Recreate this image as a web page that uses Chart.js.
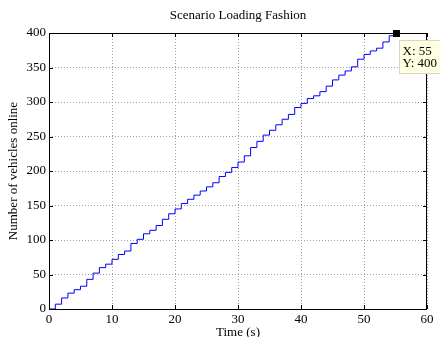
<!DOCTYPE html>
<html>
<head>
<meta charset="utf-8">
<script src="https://cdn.jsdelivr.net/npm/chart.js@4.4.1/dist/chart.umd.min.js"></script>
<style>
html,body{margin:0;padding:0;background:#fff;}
#wrap{width:440px;height:337px;}
</style>
</head>
<body>
<div id="wrap"><canvas id="c" width="440" height="337"></canvas></div>
<script>
// ---- data ----
const timeSeconds = [0,1,2,3,4,5,6,7,8,9,10,11,12,13,14,15,16,17,18,19,20,21,22,23,24,25,26,27,28,29,30,31,32,33,34,35,36,37,38,39,40,41,42,43,44,45,46,47,48,49,50,51,52,53,54,55];
const vehiclesOnline = [0,7,16,23,28,33,43,52,60,65,72,79,84,95,101,109,114,121,130,138,145,153,159,165,171,177,183,192,198,205,213,222,234,243,252,259,267,275,282,292,298,305,309,315,323,332,339,345,351,362,369,374,378,387,396,400];
const xTickValues = [0,10,20,30,40,50,60];
const yTickValues = [0,50,100,150,200,250,300,350,400];
const chartTitle = 'Scenario Loading Fashion';
const xTitle = 'Time (s)';
const yTitle = 'Number of vehicles online';
const dataTipX = 55;
const dataTipY = 400;

const SERIF = "'Liberation Serif', 'Times New Roman', serif";
const FONT = {family: SERIF, size: 13, weight: 'normal', lineHeight: 1.2};

const points = timeSeconds.map((t, i) => ({x: t, y: vehiclesOnline[i]}));

const matlabFrame = {
  id: 'matlabFrame',
  afterDatasetsDraw(chart) {
    const {ctx, chartArea: a, scales: {x, y}} = chart;
    ctx.save();
    // box
    ctx.strokeStyle = '#000';
    ctx.lineWidth = 1;
    ctx.setLineDash([]);
    ctx.strokeRect(Math.round(a.left) + 0.5, Math.round(a.top) + 0.5,
                   Math.round(a.right - a.left) - 1, Math.round(a.bottom - a.top));
    // inward ticks
    const tl = 4;
    ctx.beginPath();
    xTickValues.forEach(v => {
      const px = Math.round(x.getPixelForValue(v)) + 0.5;
      ctx.moveTo(px, a.bottom); ctx.lineTo(px, a.bottom - tl);
      ctx.moveTo(px, a.top); ctx.lineTo(px, a.top + tl);
    });
    yTickValues.forEach(v => {
      const py = Math.round(y.getPixelForValue(v)) + 0.5;
      ctx.moveTo(a.left, py); ctx.lineTo(a.left + tl, py);
      ctx.moveTo(a.right, py); ctx.lineTo(a.right - tl, py);
    });
    ctx.stroke();
    // title
    ctx.fillStyle = '#000';
    ctx.font = '13px ' + SERIF;
    ctx.textAlign = 'center';
    ctx.textBaseline = 'middle';
    ctx.fillText(chartTitle, (a.left + a.right) / 2, 16);
    // data tip
    const mx = x.getPixelForValue(dataTipX);
    const my = y.getPixelForValue(dataTipY);
    ctx.fillStyle = '#000';
    ctx.fillRect(Math.round(mx) - 3, Math.round(my) - 3, 7, 7);
    const bx = Math.round(mx) + 3.5, by = Math.round(my) + 7.5;
    ctx.fillStyle = '#ffffe1';
    ctx.fillRect(bx, by, 50, 33);
    ctx.strokeStyle = '#d8d8c0';
    ctx.strokeRect(bx, by, 50, 33);
    ctx.fillStyle = '#000';
    ctx.textAlign = 'left';
    ctx.textBaseline = 'middle';
    ctx.font = '13px ' + SERIF;
    ctx.fillText('X: ' + dataTipX, bx + 3, by + 11);
    ctx.fillText('Y: ' + dataTipY, bx + 3, by + 23);
    ctx.restore();
  }
};

new Chart(document.getElementById('c'), {
  type: 'line',
  data: {
    datasets: [{
      data: points,
      stepped: true,
      borderColor: '#0000ff',
      borderWidth: 1,
      pointRadius: 0,
      fill: false,
      tension: 0
    }]
  },
  options: {
    responsive: false,
    animation: false,
    devicePixelRatio: 1,
    layout: {padding: {left: 0, right: 13, top: 33, bottom: 0}},
    plugins: {legend: {display: false}, tooltip: {enabled: false}, title: {display: false}},
    scales: {
      x: {
        type: 'linear', min: 0, max: 60,
        afterBuildTicks: s => { s.ticks = xTickValues.map(v => ({value: v})); },
        afterFit: s => { s.height = 28; },
        ticks: {font: FONT, color: '#000', padding: 3, autoSkip: false, maxRotation: 0},
        grid: {color: '#a0a0a0', lineWidth: 1, drawTicks: false},
        border: {display: false, dash: [1, 2]},
        title: {display: true, text: xTitle, font: FONT, color: '#000', padding: {top: 0, bottom: -3}}
      },
      y: {
        type: 'linear', min: 0, max: 400,
        afterBuildTicks: s => { s.ticks = yTickValues.map(v => ({value: v})); },
        afterFit: s => { s.width = 49; },
        ticks: {font: FONT, color: '#000', padding: 3, autoSkip: false},
        grid: {color: '#a0a0a0', lineWidth: 1, drawTicks: false},
        border: {display: false, dash: [1, 2]},
        title: {display: true, text: yTitle, font: FONT, color: '#000', padding: {top: 6, bottom: 0}}
      }
    }
  },
  plugins: [matlabFrame]
});
</script>
</body>
</html>
